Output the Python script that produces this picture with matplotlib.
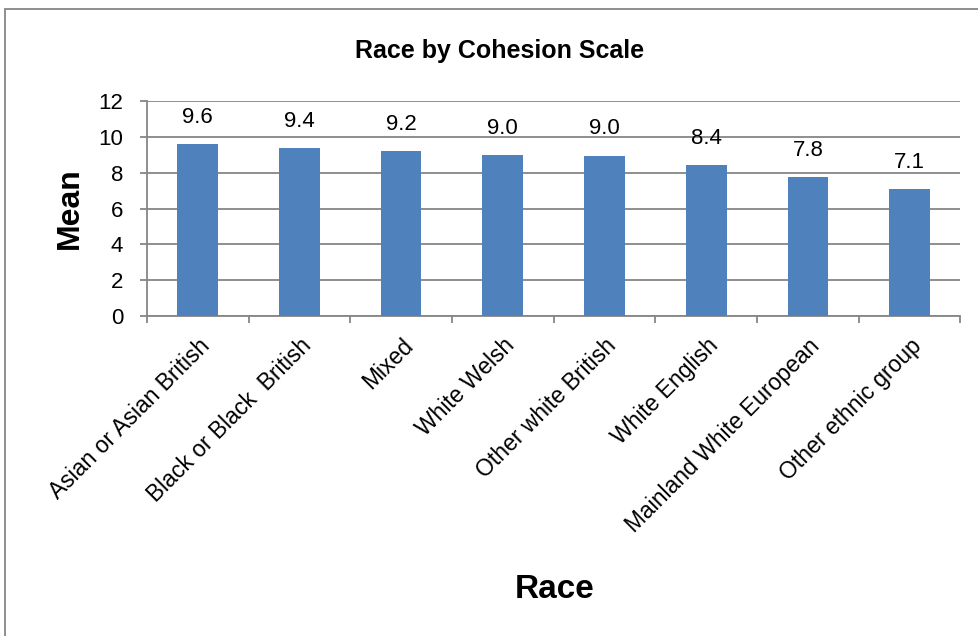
import matplotlib
matplotlib.use("Agg")
import matplotlib.pyplot as plt
from matplotlib.patches import Rectangle
import numpy as np

categories = ["Asian or Asian British", "Black or Black  British", "Mixed", "White Welsh",
              "Other white British", "White English", "Mainland White European", "Other ethnic group"]
means = [9.60, 9.36, 9.20, 8.98, 8.96, 8.42, 7.76, 7.08]
yticks = [0, 2, 4, 6, 8, 10, 12]

plt.rcParams['font.family'] = ['Liberation Sans', 'DejaVu Sans']

fig = plt.figure(figsize=(9.79, 6.36), dpi=100)
ax = fig.add_axes([0.150, 0.503, 0.831, 0.338])

x = np.arange(len(categories))
bars = ax.bar(x, means, width=0.4, color="#4F81BD", zorder=3)

for xi, v in zip(x, means):
    ax.annotate(f"{v:.1f}", (xi, v), xytext=(0, 27), textcoords="offset pixels",
                ha="center", va="center", fontsize=16, color="black")

ax.set_xlim(-0.5, len(categories) - 0.5)
ax.set_ylim(0, 12)
ax.set_yticks(yticks)
ax.set_yticklabels([str(t) for t in yticks], fontsize=16)
ax.yaxis.grid(True, color="#868686", linewidth=1.3, zorder=0)
ax.set_axisbelow(True)

ax.set_xticks(x)
ax.set_xticklabels(categories, rotation=45, ha="right", rotation_mode="anchor", fontsize=16.5)
ax.tick_params(axis="x", length=0, pad=13)
ax.set_xticks(np.arange(-0.5, len(categories), 1.0), minor=True)
ax.tick_params(axis="x", which="minor", length=5, color="#868686", width=1.3)
ax.tick_params(axis="y", length=5, color="#868686", width=1.3, pad=12)

for s in ["top", "right"]:
    ax.spines[s].set_visible(False)
for s in ["left", "bottom"]:
    ax.spines[s].set_color("#868686")
    ax.spines[s].set_linewidth(1.3)

ax.set_ylabel("Mean", fontsize=23, fontweight="bold", labelpad=10)
fig.text(555 / 979, 1 - 590 / 636, "Race", fontsize=24, fontweight="bold", ha="center", va="center")
fig.text(500 / 979, 1 - 51 / 636, "Race by Cohesion Scale", fontsize=18, fontweight="bold",
         ha="center", va="center")

fig.patches.append(Rectangle((5 / 979, -0.1), 1.2, 1 - 9 / 636 + 0.1, fill=False,
                             edgecolor="#868686", linewidth=1.3, transform=fig.transFigure,
                             figure=fig))

fig.savefig("out.png", dpi=100)
